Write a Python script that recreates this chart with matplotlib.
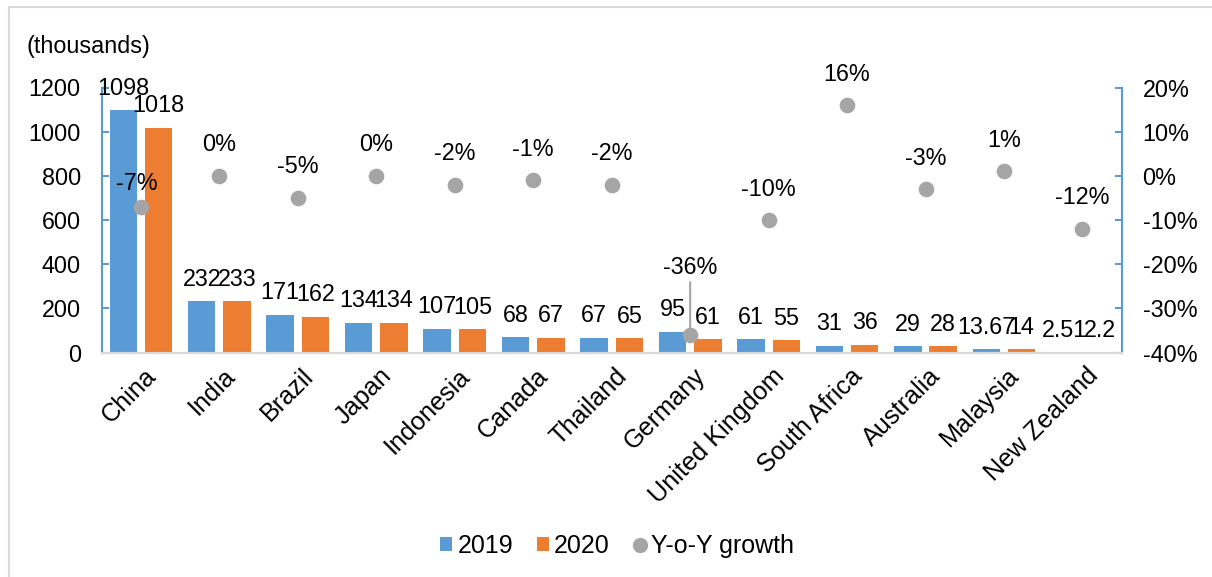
import matplotlib
matplotlib.use("Agg")
import matplotlib.pyplot as plt
from matplotlib.patches import Patch
from matplotlib.lines import Line2D
import numpy as np

plt.rcParams['font.family'] = ['Liberation Sans', 'DejaVu Sans']

countries = ["China", "India", "Brazil", "Japan", "Indonesia", "Canada", "Thailand",
             "Germany", "United Kingdom", "South Africa", "Australia", "Malaysia",
             "New Zealand"]
sales_2019 = [1098, 232, 171, 134, 107, 68, 67, 95, 61, 31, 29, 13.67, 2.51]
sales_2020 = [1018, 233, 162, 134, 105, 67, 65, 61, 55, 36, 28, 14, 2.2]
growth = [-0.07, 0.00, -0.05, 0.00, -0.02, -0.01, -0.02, -0.36, -0.10, 0.16, -0.03, 0.01, -0.12]

BLUE = "#5B9BD5"
ORANGE = "#ED7D31"
GREY = "#A5A5A5"
FS = 16.8
FS_CAT = 18.2
FS_LEG = 18.0
W, H = 1212, 577

fig = plt.figure(figsize=(W / 100, H / 100), dpi=100)
ax = fig.add_axes([101.7 / W, 1 - 352.5 / H, (1121.7 - 101.7) / W, (352.5 - 87.5) / H])
ax2 = ax.twinx()

x = np.arange(len(countries))
off, bw = 0.225, 0.35
ax.bar(x - off, sales_2019, bw, color=BLUE, zorder=2)
ax.bar(x + off, sales_2020, bw, color=ORANGE, zorder=2)


def fmt(v):
    return f"{v:g}"


for xi, v in zip(x - off, sales_2019):
    ax.annotate(fmt(v), (xi, v), xytext=(0, 15.8), textcoords="offset points",
                ha="center", va="center", fontsize=FS)
for xi, v in zip(x + off, sales_2020):
    ax.annotate(fmt(v), (xi, v), xytext=(0, 15.8), textcoords="offset points",
                ha="center", va="center", fontsize=FS)

ax.set_xlim(-0.5, len(countries) - 0.5)
ax.set_ylim(0, 1200)
ax.set_yticks(range(0, 1201, 200))
ax2.set_ylim(-0.4, 0.2)
pct_ticks = np.arange(-0.4, 0.21, 0.1)
ax2.set_yticks(pct_ticks)
ax2.set_yticklabels([f"{int(round(t * 100))}%" for t in pct_ticks])

ax2.scatter(x, growth, s=105, color=GREY, zorder=5)
for i, (xi, g) in enumerate(zip(x, growth)):
    dx, dy = 0, 22.3
    if i == 0:
        dx, dy = -3, 16.5
    if i == 7:
        dy = 48.5
        ax2.annotate("", (xi, g), xytext=(0, 38), textcoords="offset points",
                     arrowprops=dict(arrowstyle="-", color=GREY, lw=1.5,
                                     shrinkA=0, shrinkB=0))
    ax2.annotate(f"{int(round(g * 100))}%", (xi, g), xytext=(dx, dy),
                 textcoords="offset points", ha="center", va="center",
                 fontsize=FS, zorder=6)

for a in (ax, ax2):
    a.spines["top"].set_visible(False)
    a.spines["left"].set_color(BLUE)
    a.spines["right"].set_color(BLUE)
    a.spines["left"].set_linewidth(1.5)
    a.spines["right"].set_linewidth(1.5)
    a.spines["bottom"].set_color("#D9D9D9")
    a.spines["bottom"].set_linewidth(1.5)
ax2.spines["left"].set_visible(False)
ax.spines["right"].set_visible(False)

ax.tick_params(axis="y", direction="in", length=5, width=1.5, color=BLUE,
               labelsize=FS, pad=15)
ax2.tick_params(axis="y", direction="in", length=5, width=1.5, color=BLUE,
                labelsize=FS, pad=15)
ax.set_xticks(x + 0.04)
ax.set_xticklabels(countries, rotation=45, ha="right", va="top",
                   rotation_mode="anchor", fontsize=FS_CAT)
ax.tick_params(axis="x", length=0, pad=8)

fig.text(27 / W, 1 - 46 / H, "(thousands)", fontsize=FS, ha="left", va="center")

handles = [
    Patch(facecolor=BLUE, edgecolor="none", label="2019"),
    Patch(facecolor=ORANGE, edgecolor="none", label="2020"),
    Line2D([], [], marker="o", linestyle="none", color=GREY, markersize=10,
           label="Y-o-Y growth"),
]
fig.legend(handles=handles, loc="center", bbox_to_anchor=(617 / W, 1 - 546 / H),
           ncol=3, frameon=False, fontsize=FS_LEG, handlelength=0.5, handleheight=0.5,
           handletextpad=0.2, columnspacing=0.95)

# chart-area frame
fig.add_artist(Line2D([9 / W, 1], [1 - 7 / H, 1 - 7 / H], color="#D9D9D9", lw=1.5,
                      transform=fig.transFigure))
fig.add_artist(Line2D([9 / W, 9 / W], [0, 1 - 7 / H], color="#D9D9D9", lw=1.5,
                      transform=fig.transFigure))

fig.savefig("out.png", dpi=100)
